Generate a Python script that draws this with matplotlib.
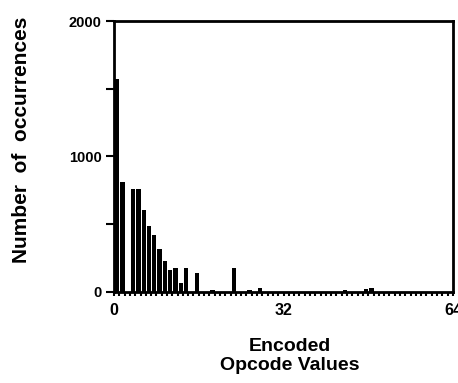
"""
Histogram of encoded opcode values: number of occurrences per value.
"""

import numpy as np
import matplotlib.pyplot as plt
from matplotlib.ticker import MultipleLocator

plt.rcParams['font.family'] = ['Liberation Sans', 'DejaVu Sans']

# opcode value -> number of occurrences
opcodes     = [0, 1, 3, 4, 5, 6, 7, 8, 9, 10, 11, 12, 13, 15, 18, 22, 25, 27, 43, 47, 48]
occurrences = [1570, 810, 763, 763, 607, 489, 422, 319, 230, 163, 178, 67, 178, 141,
               15, 178, 15, 25, 15, 20, 25]

X_MAX = 64
Y_MAX = 2000
xticks = [0, 32, 64]
yticks = [0, 1000, 2000]

# ============================================================
# FIGURE
# ============================================================
fig = plt.figure(figsize=(4.58, 3.83), dpi=100)
ax = fig.add_axes([0.249, 0.238, 0.740, 0.707])

ax.bar(np.array(opcodes) + 0.6, occurrences, width=0.8, color='black', zorder=3)

ax.set_xlim(0, X_MAX)
ax.set_ylim(0, Y_MAX)
ax.set_xticks(xticks)
ax.set_xticklabels([str(t) for t in xticks], fontsize=11.5, fontweight='bold')
ax.xaxis.set_minor_locator(MultipleLocator(1))
ax.set_yticks(yticks)
ax.set_yticklabels([str(t) for t in yticks], fontsize=10.5, fontweight='bold')
ax.yaxis.set_minor_locator(MultipleLocator(500))

ax.tick_params(axis='x', which='both', direction='out', length=3, width=1.5, pad=5)
ax.tick_params(axis='y', which='both', direction='out', length=6, width=1.5, pad=3)
for s in ax.spines.values():
    s.set_linewidth(2)

fig.text(0.047, 0.634, 'Number  of  occurrences', rotation=90, ha='center', va='center',
         fontsize=15, fontweight='bold')
fig.text(0.633, 0.07, 'Encoded\nOpcode Values', ha='center', va='center',
         fontsize=14, fontweight='bold', linespacing=1.15)

plt.savefig('out.png', dpi=100)
